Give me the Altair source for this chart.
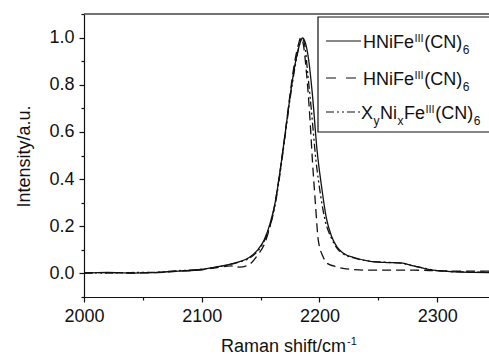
import altair as alt
import pandas as pd

# ---------------- data ----------------
solid_x = [2000, 2020, 2040, 2060, 2080, 2100, 2115, 2130, 2140, 2147, 2153, 2158, 2162,
           2167, 2171, 2175, 2179, 2183, 2185.5, 2188, 2191, 2194, 2198, 2202, 2206, 2210,
           2215, 2220, 2230, 2243, 2255, 2269, 2280, 2290, 2300, 2315, 2330, 2344]
solid_y = [0.0, 0.003, 0.0, 0.002, 0.008, 0.015, 0.028, 0.045, 0.065, 0.095, 0.14, 0.21, 0.29,
           0.45, 0.60, 0.75, 0.88, 0.97, 1.0, 0.98, 0.90, 0.76, 0.52, 0.36, 0.23, 0.16,
           0.11, 0.085, 0.065, 0.05, 0.045, 0.043, 0.03, 0.018, 0.01, 0.005, 0.003, 0.002]

dashed_x = [2000, 2020, 2040, 2060, 2080, 2100, 2115, 2125, 2132, 2140, 2148, 2153, 2157,
            2162, 2167, 2171, 2175, 2179, 2182, 2184, 2186, 2189, 2192, 2194, 2196.5, 2199,
            2203, 2207, 2212, 2220, 2240, 2260, 2280, 2300, 2320, 2344]
dashed_y = [0.0, 0.002, 0.0, 0.002, 0.008, 0.014, 0.025, 0.03, 0.025, 0.035, 0.08, 0.12, 0.18,
            0.29, 0.45, 0.60, 0.76, 0.90, 0.97, 1.0, 0.98, 0.85, 0.65, 0.48, 0.30, 0.14,
            0.07, 0.04, 0.03, 0.02, 0.012, 0.012, 0.012, 0.01, 0.008, 0.008]

dashdot_x = [2000, 2020, 2040, 2060, 2080, 2100, 2115, 2130, 2140, 2147, 2153, 2158, 2162,
             2167, 2171, 2175, 2179, 2183, 2185, 2187.5, 2190, 2193, 2197, 2201, 2205, 2210,
             2215, 2220, 2230, 2243, 2255, 2269, 2280, 2290, 2300, 2315, 2330, 2344]
dashdot_y = [0.002, 0.0, 0.002, 0.003, 0.01, 0.016, 0.027, 0.044, 0.062, 0.09, 0.135, 0.2, 0.28,
             0.44, 0.59, 0.74, 0.87, 0.97, 1.0, 0.97, 0.85, 0.70, 0.48, 0.33, 0.22, 0.15,
             0.105, 0.082, 0.063, 0.05, 0.046, 0.042, 0.03, 0.02, 0.01, 0.006, 0.004, 0.003]

x_ticks = [2000, 2050, 2100, 2150, 2200, 2250, 2300]
y_ticks = [-0.1, 0.0, 0.1, 0.2, 0.3, 0.4, 0.5, 0.6, 0.7, 0.8, 0.9, 1.0, 1.1]

# legend rows: list of (text, kind)
legend_rows = [
    [("HNiFe", "n"), ("III", "sup"), ("(CN)", "n"), ("6", "sub")],
    [("HNiFe", "n"), ("III", "sup"), ("(CN)", "n"), ("6", "sub")],
    [("X", "n"), ("y", "sub"), ("Ni", "n"), ("x", "sub"), ("Fe", "n"), ("III", "sup"),
     ("(CN)", "n"), ("6", "sub")],
]

# ---------------- layout / style ----------------
W, H = 405, 283
XDOM = [2000, 2344]
YDOM = [-0.102, 1.102]
FONT = "Liberation Sans"
FS = 18
INK = "#111111"
DASH = [9, 5]
DASHDOT = [8, 3, 2, 3, 2, 3]

# Arial-like advance widths (per 1000 em)
CW = {"H": 722, "N": 722, "i": 222, "F": 611, "e": 556, "I": 278, "(": 333, ")": 333,
      "C": 722, "6": 556, "X": 667, "y": 500, "x": 500}


def tw(s, size):
    return sum(CW.get(c, 556) for c in s) * size / 1000.0


xaxis = alt.Axis(values=x_ticks, title=None, grid=False,
                 labelExpr="datum.value % 100 == 0 ? format(datum.value, 'd') : ''",
                 tickSize={"condition": {"test": "datum.value % 100 == 0", "value": 5}, "value": 3},
                 labelPadding=5, labelFlush=False)
yaxis = alt.Axis(values=y_ticks, title="Intensity/a.u.", grid=False,
                 labelExpr="(abs(round(datum.value*10)) % 2 == 0 && datum.value > -0.05 && datum.value < 1.05) ? format(datum.value, '.1f') : ''",
                 tickSize={"condition": {"test": "abs(round(datum.value*10)) % 2 == 0", "value": 5}, "value": 3},
                 labelPadding=5, titleAngle=270, titleX=-55, titleY=142,
                 titleAlign="center", titleBaseline="alphabetic", labelFlush=False)

xenc = alt.X("x:Q", scale=alt.Scale(domain=XDOM, nice=False, zero=False), axis=xaxis)
yenc = alt.Y("y:Q", scale=alt.Scale(domain=YDOM, nice=False, zero=False), axis=yaxis)


def curve(xs, ys, dash=None):
    df = pd.DataFrame({"x": xs, "y": ys})
    kw = dict(color=INK, strokeWidth=1.3, interpolate="monotone")
    if dash:
        kw["strokeDash"] = dash
    return alt.Chart(df).mark_line(**kw).encode(x=xenc, y=yenc)


one = pd.DataFrame({"k": [0]})
layers = [
    curve(solid_x, solid_y),
    curve(dashed_x, dashed_y, DASH),
    curve(dashdot_x, dashdot_y, DASHDOT),
]

# top frame line
layers.append(alt.Chart(one).mark_rule(color="#444444", strokeWidth=1.5).encode(
    x=alt.value(0), x2=alt.value(W + 5), y=alt.value(0)))

# legend box
layers.append(alt.Chart(one).mark_rect(fill="white", stroke=INK, strokeWidth=1.2).encode(
    x=alt.value(234), x2=alt.value(W + 20), y=alt.value(3), y2=alt.value(118)))

# legend samples
sample_y = [27, 64, 98]
sample_dash = [None, [10, 10], DASHDOT]
for sy, sd in zip(sample_y, sample_dash):
    kw = dict(color=INK, strokeWidth=1.2)
    if sd:
        kw["strokeDash"] = sd
    layers.append(alt.Chart(one).mark_rule(**kw).encode(
        x=alt.value(242), x2=alt.value(277), y=alt.value(sy)))

# legend texts
row_base = [34, 71, 105]
row_x0 = [279, 279, 277]
for pieces, base, x0 in zip(legend_rows, row_base, row_x0):
    cx = x0
    for text, kind in pieces:
        if kind == "n":
            size, dy = FS, 0
        elif kind == "sup":
            size, dy = 11, -6
        else:
            size, dy = 12, 6
        layers.append(alt.Chart(one).mark_text(
            text=text, align="left", baseline="alphabetic", font=FONT, fontSize=size,
            color=INK).encode(x=alt.value(cx), y=alt.value(base + dy)))
        cx += tw(text, size) + (0.5 if kind != "n" else 0.5)

# x-axis title with superscript
layers.append(alt.Chart(one).mark_text(
    text="Raman shift/cm", align="right", baseline="alphabetic", font=FONT, fontSize=FS,
    color=INK).encode(x=alt.value(262), y=alt.value(338)))
layers.append(alt.Chart(one).mark_text(
    text="-1", align="left", baseline="alphabetic", font=FONT, fontSize=11,
    color=INK).encode(x=alt.value(263), y=alt.value(331)))

chart = alt.layer(*layers).properties(
    width=W, height=H,
    autosize=alt.AutoSizeParams(type="none"),
    padding={"left": 84, "top": 14, "right": 0, "bottom": 62},
).configure_view(stroke=None).configure_axis(
    domainColor=INK, tickColor=INK, domainWidth=1.2, tickWidth=1.2,
    labelFont=FONT, labelFontSize=FS, labelColor=INK,
    titleFont=FONT, titleFontSize=FS, titleColor=INK, titleFontWeight="normal",
)

chart.save("out.html", embed_options={"renderer": "svg", "actions": False})
